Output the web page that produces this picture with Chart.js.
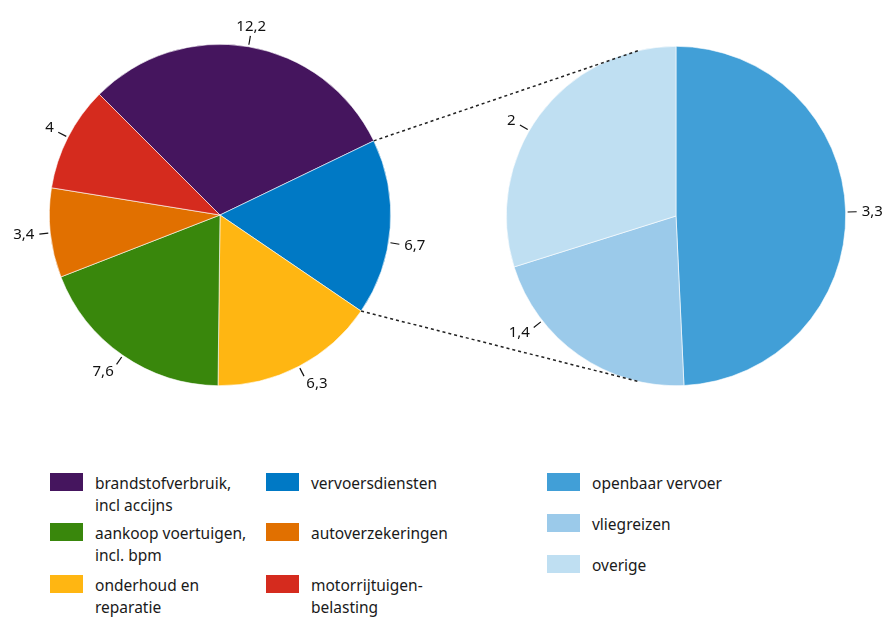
<!DOCTYPE html>
<html>
<head>
<meta charset="utf-8">
<script src="https://cdn.jsdelivr.net/npm/chart.js@4"></script>
<style>
  body { margin: 0; background: #fff; font-family: "Noto Sans", sans-serif; }
  #wrap { position: relative; width: 886px; height: 617px; }
  canvas { position: absolute; top: 0; }
  #links { pointer-events: none; }
  .leg { position: absolute; display: flex; align-items: flex-start; font-size: 15.5px; line-height: 22px; color: #1a1a1a; }
  .leg .sw { width: 33px; height: 18px; margin-top: 1px; margin-right: 12px; flex: none; }
</style>
</head>
<body>
<div id="wrap">
  <canvas id="leftPie" width="440" height="430" style="left:0"></canvas>
  <canvas id="rightPie" width="446" height="430" style="left:440px"></canvas>
  <canvas id="links" width="886" height="430" style="left:0"></canvas>
</div>
<script>
// hoofdtaart (kloksgewijs vanaf paars)
const mainLabels = ['brandstofverbruik,\nincl accijns', 'vervoersdiensten', 'onderhoud en\nreparatie', 'aankoop voertuigen,\nincl. bpm', 'autoverzekeringen', 'motorrijtuigen-\nbelasting'];
const mainValues = [12.2, 6.7, 6.3, 7.6, 3.4, 4];
const mainColors = ['#45155e', '#0079c5', '#ffb612', '#39870c', '#e17000', '#d52b1e'];

// uitsplitsing vervoersdiensten
const subLabels = ['openbaar vervoer', 'vliegreizen', 'overige'];
const subValues = [3.3, 1.4, 2];
const subColors = ['#419fd7', '#9bcaea', '#bfdff2'];

// volgorde in de legenda
const legendCol1 = [0, 3, 2];
const legendCol2 = [1, 4, 5];

const fmt = v => v.toString().replace('.', ',');

// waardes met kleine streepjes buiten de taart
function valueLabels(shifts) {
  return {
    id: 'valueLabels',
    afterDraw(chart) {
      const ctx = chart.ctx;
      const meta = chart.getDatasetMeta(0);
      const data = chart.data.datasets[0].data;
      ctx.save();
      ctx.strokeStyle = '#111';
      ctx.lineWidth = 1.2;
      ctx.fillStyle = '#111';
      ctx.font = '15px "Noto Sans", sans-serif';
      meta.data.forEach((arc, i) => {
        const p = arc.getProps(['x', 'y', 'startAngle', 'endAngle', 'outerRadius'], true);
        const a = (p.startAngle + p.endAngle) / 2 + (shifts[i] || 0) * Math.PI / 180;
        const c = Math.cos(a), s = Math.sin(a);
        const r1 = p.outerRadius + 2, r2 = p.outerRadius + 11;
        ctx.beginPath();
        ctx.moveTo(p.x + c * r1, p.y + s * r1);
        ctx.lineTo(p.x + c * r2, p.y + s * r2);
        ctx.stroke();
        const tx = p.x + c * (r2 + 5), ty = p.y + s * (r2 + 9);
        ctx.textAlign = c > 0.35 ? 'left' : (c < -0.35 ? 'right' : 'center');
        ctx.textBaseline = 'middle';
        ctx.fillText(fmt(data[i]), tx, ty);
      });
      ctx.restore();
    }
  };
}

function pieConfig(labels, values, colors, rotation, padding, shifts) {
  return {
    type: 'pie',
    data: {
      labels: labels,
      datasets: [{
        data: values,
        backgroundColor: colors,
        borderColor: '#ffffff',
        borderWidth: 0.6
      }]
    },
    options: {
      responsive: false,
      animation: false,
      rotation: rotation,
      layout: { padding: padding },
      plugins: { legend: { display: false }, tooltip: { enabled: false } }
    },
    plugins: [valueLabels(shifts)]
  };
}

const leftChart = new Chart(document.getElementById('leftPie'),
  pieConfig(mainLabels, mainValues, mainColors, -45, { left: 49, right: 49, top: 44, bottom: 44 }, [0, 5, 0, 0, 0, 0]));
const rightChart = new Chart(document.getElementById('rightPie'),
  pieConfig(subLabels, subValues, subColors, 0, { left: 66, right: 40, top: 46, bottom: 44 }, [0, 17, -6]));

// stippellijnen tussen vervoersdiensten en de uitsplitsing
(function drawLinks() {
  const ctx = document.getElementById('links').getContext('2d');
  const arc = leftChart.getDatasetMeta(0).data[1].getProps(['x', 'y', 'startAngle', 'endAngle', 'outerRadius'], true);
  const rc = rightChart.getDatasetMeta(0).data[0].getProps(['x', 'y', 'outerRadius'], true);
  const rx = rc.x + 440, ry = rc.y, rr = rc.outerRadius;
  const off = 102.5 * Math.PI / 180;
  const pts = [
    [arc.x + Math.cos(arc.startAngle) * arc.outerRadius, arc.y + Math.sin(arc.startAngle) * arc.outerRadius, rx + Math.cos(-off) * rr, ry + Math.sin(-off) * rr],
    [arc.x + Math.cos(arc.endAngle) * arc.outerRadius, arc.y + Math.sin(arc.endAngle) * arc.outerRadius, rx + Math.cos(off) * rr, ry + Math.sin(off) * rr]
  ];
  ctx.strokeStyle = '#222';
  ctx.lineWidth = 1.5;
  ctx.setLineDash([3, 3]);
  pts.forEach(p => {
    ctx.beginPath();
    ctx.moveTo(p[0], p[1]);
    ctx.lineTo(p[2], p[3]);
    ctx.stroke();
  });
})();

// legenda
const wrap = document.getElementById('wrap');
function addLegend(text, color, x, y) {
  const d = document.createElement('div');
  d.className = 'leg';
  d.style.left = x + 'px';
  d.style.top = y + 'px';
  const sw = document.createElement('div');
  sw.className = 'sw';
  sw.style.background = color;
  const t = document.createElement('div');
  t.innerHTML = text.split('\n').join('<br>');
  d.appendChild(sw);
  d.appendChild(t);
  wrap.appendChild(d);
}
const rowsMain = [472, 522, 574];
legendCol1.forEach((idx, r) => addLegend(mainLabels[idx], mainColors[idx], 50, rowsMain[r]));
legendCol2.forEach((idx, r) => addLegend(mainLabels[idx], mainColors[idx], 266, rowsMain[r]));
subLabels.forEach((lab, r) => addLegend(lab, subColors[r], 547, 472 + r * 41));
</script>
</body>
</html>
